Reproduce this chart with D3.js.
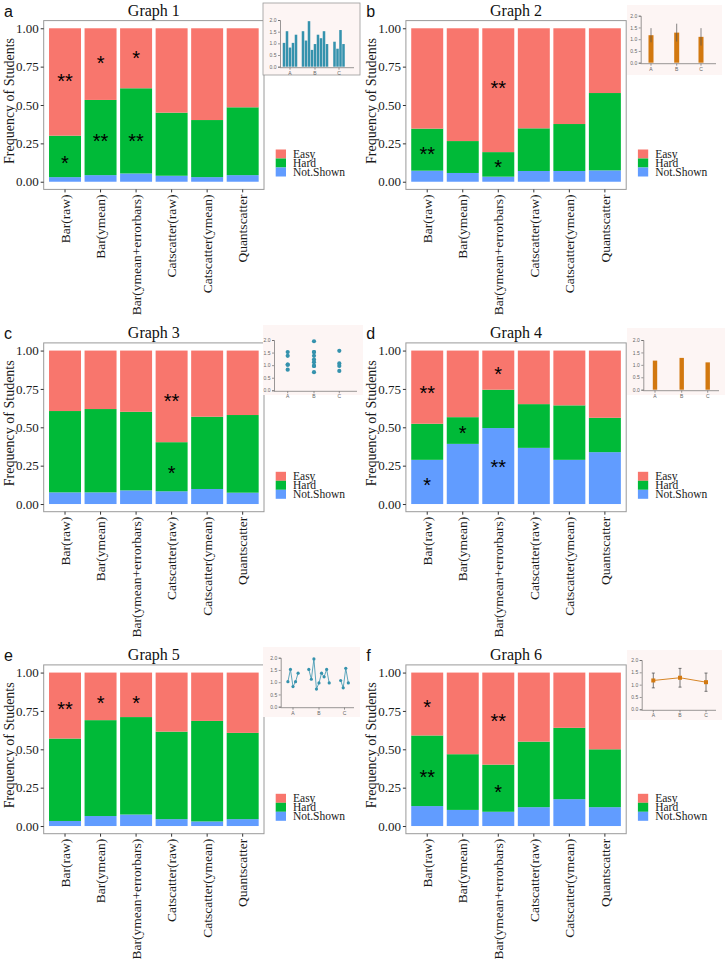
<!DOCTYPE html>
<html><head><meta charset="utf-8">
<script src="https://cdn.jsdelivr.net/npm/d3@7"></script>
<style>body{margin:0;background:#fff} svg{display:block}</style>
</head>
<body><svg id="c" width="725" height="960"></svg>
<script>
// ---------------- DATA ----------------
const categories = ["Bar(raw)","Bar(ymean)","Bar(ymean+errorbars)","Catscatter(raw)","Catscatter(ymean)","Quantscatter"];
const seriesNames = ["Easy","Hard","Not.Shown"];
const graphTitles = ["Graph 1","Graph 2","Graph 3","Graph 4","Graph 5","Graph 6"];
const panelLetters = ["a","b","c","d","e","f"];
const yTicks = [0, 0.25, 0.5, 0.75, 1.0];

// proportion of students per category (Easy = remainder to 1)
const notShownG1 = [0.030,0.043,0.054,0.039,0.030,0.043];
const hardG1     = [0.270,0.490,0.555,0.411,0.372,0.442];
const notShownG2 = [0.072,0.057,0.033,0.070,0.070,0.074];
const hardG2     = [0.274,0.208,0.160,0.278,0.306,0.504];
const notShownG3 = [0.076,0.076,0.089,0.083,0.098,0.074];
const hardG3     = [0.530,0.543,0.512,0.320,0.471,0.506];
const notShownG4 = [0.288,0.392,0.495,0.366,0.288,0.338];
const hardG4     = [0.235,0.174,0.250,0.285,0.355,0.224];
const notShownG5 = [0.033,0.065,0.075,0.045,0.030,0.045];
const hardG5     = [0.537,0.625,0.635,0.570,0.655,0.562];
const notShownG6 = [0.130,0.105,0.093,0.123,0.175,0.123];
const hardG6     = [0.460,0.363,0.307,0.427,0.465,0.377];

// significance stars: graph index, category index, label, y position
const starGraph = [0,0,0,0,0,0, 1,1,1, 2,2, 3,3,3,3,3, 4,4,4, 5,5,5,5];
const starCat   = [0,0,1,1,2,2, 0,2,2, 3,3, 0,0,1,2,2, 0,1,2, 0,0,2,2];
const starText  = ["**","*","*","**","*","**", "**","**","*", "**","*", "**","*","*","*","**", "**","*","*", "*","**","**","*"];
const starY     = [0.68,0.15,0.80,0.293,0.83,0.293, 0.207,0.635,0.124, 0.70,0.227, 0.75,0.148,0.488,0.876,0.268, 0.79,0.83,0.83, 0.80,0.345,0.71,0.25];

// inset example charts
const insetGroups = ["A","B","C"];
const rawA = [1.02,1.52,0.82,1.02,1.37];
const rawB = [1.52,1.12,1.95,0.72,0.97,1.37,1.22,1.52,0.97];
const rawC = [1.07,0.77,1.57,0.97];
const meanVals = [1.17,1.28,1.10];
const errVals  = [0.30,0.38,0.37];
const insetTickLabels = ["0.0","0.5","1.0","1.5","2.0"];
const insetTypes = ["bars","meanbarErr","dots","meanbar","lines","meanpointErr"];

// ---------------- LAYOUT ----------------
const colors = {"Easy":"#F8766D","Hard":"#00BA38","Not.Shown":"#619CFF"};
const colOff = [0, 362.2];
const rowOff = [0, 322.3, 644.3];
const P = {x0:43.7, x1:264, y0:20.6, y1:189.4};
const insetLayout = [
  {bg:[263,3,97,72],   ax:280,   y2:20,    y0:66.7,  cx:[290,315,339],        sp:3.0},
  {bg:[627,5,95,70],   ax:640.7, y2:15.7,  y0:62.7,  cx:[651,676.7,701],      sp:3.0},
  {bg:[263,325,100,70],ax:274,   y2:340,   y0:390.3, cx:[287.7,314,339.3],    sp:3.0},
  {bg:[627,328,98,67], ax:643.3, y2:340,   y0:389.7, cx:[655,681.7,707.7],    sp:3.0},
  {bg:[263,647,97,70], ax:280.7, y2:657.7, y0:706.7, cx:[293,319,344.5],      sp:2.55},
  {bg:[627,650,95,70], ax:641.7, y2:660,   y0:709.3, cx:[653.3,680,706],      sp:3.0}
];

const notShownAll = [notShownG1,notShownG2,notShownG3,notShownG4,notShownG5,notShownG6];
const hardAll = [hardG1,hardG2,hardG3,hardG4,hardG5,hardG6];
const rawAll = [rawA, rawB, rawC];

const svg = d3.select("#c");
const serif = "'Liberation Serif','Times New Roman',serif";
const sans = "'Liberation Sans',Arial,sans-serif";

for (let g = 0; g < 6; g++) {
  const ox = colOff[g % 2], oy = rowOff[Math.floor(g / 2)];
  const G = svg.append("g").attr("transform", `translate(${ox},${oy})`);
  const x = d3.scaleBand().domain(categories).range([P.x0, P.x1]).paddingInner(0.1).paddingOuter(0.15);
  const y = d3.scaleLinear().domain([-0.05, 1.05]).range([P.y1, P.y0]);

  const rows = categories.map((c, i) => ({
    cat: c,
    "Not.Shown": notShownAll[g][i],
    "Hard": hardAll[g][i],
    "Easy": 1 - notShownAll[g][i] - hardAll[g][i]
  }));
  const stack = d3.stack().keys(["Not.Shown","Hard","Easy"])(rows);

  G.append("rect").attr("x", P.x0).attr("y", P.y0).attr("width", P.x1 - P.x0).attr("height", P.y1 - P.y0).attr("fill", "#fff");
  stack.forEach(layer => {
    G.append("g").selectAll("rect").data(layer).join("rect")
      .attr("x", d => x(d.data.cat)).attr("width", x.bandwidth())
      .attr("y", d => y(d[1])).attr("height", d => y(d[0]) - y(d[1]))
      .attr("fill", colors[layer.key]);
  });
  G.append("rect").attr("x", P.x0).attr("y", P.y0).attr("width", P.x1 - P.x0).attr("height", P.y1 - P.y0)
    .attr("fill", "none").attr("stroke", "#9a9a9a").attr("stroke-width", 1);

  const yAxis = G.append("g").attr("transform", `translate(${P.x0},0)`)
    .call(d3.axisLeft(y).tickValues(yTicks).tickFormat(d3.format(".2f")).tickSize(3).tickPadding(2));
  yAxis.select(".domain").remove();
  yAxis.selectAll("line").attr("stroke", "#333");
  yAxis.selectAll("text").attr("font-family", serif).attr("font-size", 13).attr("fill", "#1a1a1a");

  const xAxis = G.append("g").attr("transform", `translate(0,${P.y1})`)
    .call(d3.axisBottom(x).tickSize(3).tickPadding(2));
  xAxis.select(".domain").remove();
  xAxis.selectAll("line").attr("stroke", "#333");
  xAxis.selectAll("text").attr("font-family", serif).attr("font-size", 13.5).attr("fill", "#1a1a1a")
    .attr("transform", "rotate(-90)").attr("text-anchor", "end")
    .attr("x", -5).attr("y", 0).attr("dy", "0.35em");

  G.append("text").attr("transform", `translate(14,${(P.y0 + P.y1) / 2 - 4}) rotate(-90)`)
    .attr("text-anchor", "middle").attr("font-family", serif).attr("font-size", 14).attr("fill", "#1a1a1a")
    .text("Frequency of Students");

  G.append("text").attr("x", (P.x0 + P.x1) / 2).attr("y", 15.5).attr("text-anchor", "middle")
    .attr("font-family", serif).attr("font-size", 16).attr("fill", "#111").text(graphTitles[g]);

  G.append("text").attr("x", 4).attr("y", 16.5).attr("font-family", sans).attr("font-size", 16)
    .attr("fill", "#111").text(panelLetters[g]);

  starGraph.forEach((sg, k) => {
    if (sg !== g) return;
    G.append("text").attr("x", x(categories[starCat[k]]) + x.bandwidth() / 2)
      .attr("y", y(starY[k]) + 11).attr("text-anchor", "middle")
      .attr("font-family", sans).attr("font-size", 20).attr("fill", "#000")
      .text(starText[k]);
  });

  // legend
  const L = G.append("g").attr("transform", "translate(275.7,149.5)");
  seriesNames.forEach((s, i) => {
    L.append("rect").attr("x", 0).attr("y", i * 9).attr("width", 10.3).attr("height", 9).attr("fill", colors[s]);
    L.append("text").attr("x", 17.3).attr("y", i * 9 + 8.3).attr("font-family", serif).attr("font-size", 11.5)
      .attr("fill", "#1a1a1a").text(s);
  });
}

// ---------------- INSETS ----------------
const teal = "#3592ad", orange = "#d2780f", egrey = "#555";
insetTypes.forEach((type, g) => {
  const L = insetLayout[g];
  const S = svg.append("g");
  S.append("rect").attr("x", L.bg[0]).attr("y", L.bg[1]).attr("width", L.bg[2]).attr("height", L.bg[3])
    .attr("fill", "#fdf5f4").attr("stroke", g === 0 ? "#9a9a9a" : "none").attr("stroke-width", 0.8);
  const yi = d3.scaleLinear().domain([0, 2]).range([L.y0, L.y2]);
  const right = L.bg[0] + L.bg[2] - 6;
  const ya = S.append("g").attr("transform", `translate(${L.ax},0)`)
    .call(d3.axisLeft(yi).tickValues([0,0.5,1,1.5,2]).tickFormat((d, i) => insetTickLabels[i]).tickSize(2).tickPadding(1.5));
  ya.select(".domain").attr("stroke", "#555").attr("stroke-width", 0.6);
  ya.selectAll("line").attr("stroke", "#555").attr("stroke-width", 0.6);
  ya.selectAll("text").attr("font-family", sans).attr("font-size", 5).attr("fill", "#666");
  S.append("line").attr("x1", L.ax).attr("x2", right).attr("y1", L.y0 + 1).attr("y2", L.y0 + 1)
    .attr("stroke", "#555").attr("stroke-width", 0.6);
  insetGroups.forEach((gr, i) => {
    S.append("line").attr("x1", L.cx[i]).attr("x2", L.cx[i]).attr("y1", L.y0 + 1).attr("y2", L.y0 + 3)
      .attr("stroke", "#555").attr("stroke-width", 0.6);
    S.append("text").attr("x", L.cx[i]).attr("y", L.y0 + 8).attr("text-anchor", "middle")
      .attr("font-family", sans).attr("font-size", 5).attr("fill", "#666").text(gr);
  });
  const pos = (i, j, n) => L.cx[i] + (j - (n - 1) / 2) * L.sp;

  if (type === "bars") {
    rawAll.forEach((arr, i) => arr.forEach((v, j) => {
      S.append("rect").attr("x", pos(i, j, arr.length) - L.sp * 0.42).attr("width", L.sp * 0.84)
        .attr("y", yi(v)).attr("height", yi(0) - yi(v)).attr("fill", teal);
    }));
  } else if (type === "dots") {
    rawAll.forEach((arr, i) => arr.forEach(v => {
      S.append("circle").attr("cx", L.cx[i]).attr("cy", yi(v)).attr("r", 2.1).attr("fill", teal);
    }));
  } else if (type === "lines") {
    rawAll.forEach((arr, i) => {
      const pts = arr.map((v, j) => [pos(i, j, arr.length), yi(v)]);
      S.append("path").attr("d", d3.line()(pts)).attr("fill", "none").attr("stroke", teal).attr("stroke-width", 0.8);
      pts.forEach(p => S.append("circle").attr("cx", p[0]).attr("cy", p[1]).attr("r", 1.6).attr("fill", teal));
    });
  } else if (type === "meanbarErr" || type === "meanbar") {
    const w = type === "meanbar" ? 4.4 : 5;
    meanVals.forEach((m, i) => {
      S.append("rect").attr("x", L.cx[i] - w / 2).attr("width", w).attr("y", yi(m)).attr("height", yi(0) - yi(m)).attr("fill", orange);
      if (type === "meanbarErr") {
        S.append("line").attr("x1", L.cx[i]).attr("x2", L.cx[i]).attr("y1", yi(m - errVals[i])).attr("y2", yi(m + errVals[i]))
          .attr("stroke", egrey).attr("stroke-width", 0.7);
      }
    });
  } else if (type === "meanpointErr") {
    meanVals.forEach((m, i) => {
      S.append("line").attr("x1", L.cx[i]).attr("x2", L.cx[i]).attr("y1", yi(m - errVals[i])).attr("y2", yi(m + errVals[i]))
        .attr("stroke", egrey).attr("stroke-width", 0.8);
      [m - errVals[i], m + errVals[i]].forEach(v => S.append("line").attr("x1", L.cx[i] - 1.5).attr("x2", L.cx[i] + 1.5)
        .attr("y1", yi(v)).attr("y2", yi(v)).attr("stroke", egrey).attr("stroke-width", 0.8));
    });
    S.append("path").attr("d", d3.line()(meanVals.map((m, i) => [L.cx[i], yi(m)])))
      .attr("fill", "none").attr("stroke", orange).attr("stroke-width", 0.9);
    meanVals.forEach((m, i) => S.append("rect").attr("x", L.cx[i] - 2).attr("y", yi(m) - 2).attr("width", 4).attr("height", 4).attr("fill", orange));
  }
});
</script>
</body></html>
